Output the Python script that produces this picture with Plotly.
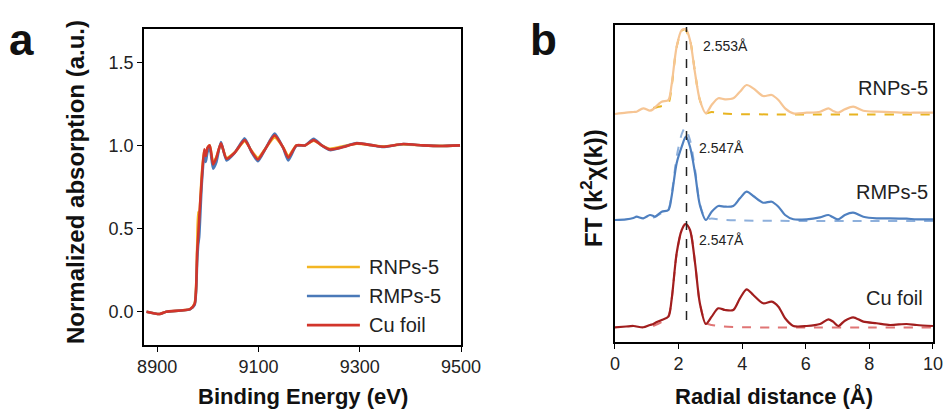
import plotly.graph_objects as go

# ---------------- Panel a: XANES ----------------
energy = [8879, 8905, 8918, 8965, 8974, 8979, 8981, 8983, 8988, 8993, 8996, 8999.5, 9004,
          9010.5, 9017, 9026, 9037, 9053, 9073, 9086, 9099, 9113, 9132, 9149, 9159, 9175,
          9192, 9209, 9225, 9241, 9267, 9294, 9326, 9346, 9386, 9425, 9458, 9498]
xanes_rnps = [0.0, -0.014, 0.0, 0.016, 0.05, 0.38, 0.60, 0.58, 0.82, 0.97, 0.94, 0.985, 1.0,
              0.895, 0.93, 1.008, 0.925, 0.957, 1.025, 0.97, 0.925, 0.978, 1.048, 0.988, 0.935, 1.0,
              1.0, 1.028, 1.0, 0.98, 0.995, 1.01, 1.0, 0.994, 1.006, 1.0, 0.997, 1.0]
xanes_rmps = [0.0, -0.014, 0.0, 0.014, 0.04, 0.30, 0.40, 0.45, 0.76, 0.94, 0.90, 0.96, 0.985,
              0.86, 0.90, 1.02, 0.91, 0.955, 1.042, 0.962, 0.905, 0.975, 1.072, 0.983, 0.91, 0.998,
              1.0, 1.04, 1.0, 0.972, 0.99, 1.014, 1.0, 0.99, 1.008, 1.0, 0.996, 1.0]
xanes_cu = [0.0, -0.014, 0.0, 0.016, 0.046, 0.356, 0.45, 0.556, 0.796, 0.976, 0.936, 0.986, 1.0,
            0.886, 0.926, 1.012, 0.92, 0.956, 1.032, 0.966, 0.916, 0.976, 1.06, 0.986, 0.926, 1.0,
            1.0, 1.032, 1.0, 0.976, 0.99, 1.012, 1.0, 0.992, 1.008, 1.0, 0.996, 1.0]
a_names = ["RNPs-5", "RMPs-5", "Cu foil"]
a_colors = ["#F3B623", "#4A79B8", "#D2352B"]
a_xticks = [8900, 9100, 9300, 9500]
a_yticks = [0.0, 0.5, 1.0, 1.5]

# ---------------- Panel b: FT-EXAFS (offset curves) ----------------
r_dist = [0.0, 0.35, 0.58, 0.68, 0.89, 1.10, 1.21, 1.26, 1.47, 1.68, 1.78, 1.94, 2.10, 2.23,
          2.36, 2.52, 2.67, 2.86, 3.04, 3.25, 3.46, 3.72, 3.93, 4.14, 4.35, 4.66, 4.93, 5.14,
          5.35, 5.61, 6.03, 6.45, 6.71, 6.86, 7.02, 7.23, 7.49, 7.81, 8.23, 8.65, 9.17, 9.49, 10.0]
ft_cu = [0.147, 0.155, 0.16, 0.155, 0.147, 0.17, 0.18, 0.19, 0.22, 0.253, 0.42, 0.887, 1.12, 1.18,
         1.12, 0.787, 0.387, 0.18, 0.253, 0.337, 0.32, 0.32, 0.437, 0.527, 0.47, 0.387, 0.403, 0.353,
         0.237, 0.16, 0.16, 0.18, 0.227, 0.203, 0.16, 0.213, 0.247, 0.203, 0.187, 0.17, 0.18, 0.17, 0.16]
ft_rmps = [1.22, 1.227, 1.24, 1.253, 1.237, 1.27, 1.26, 1.253, 1.303, 1.32, 1.453, 1.787, 1.953, 2.053,
           1.953, 1.687, 1.37, 1.22, 1.303, 1.36, 1.353, 1.36, 1.437, 1.503, 1.46, 1.393, 1.403, 1.353,
           1.27, 1.227, 1.227, 1.247, 1.27, 1.247, 1.227, 1.27, 1.293, 1.253, 1.237, 1.237, 1.233, 1.227, 1.227]
ft_rnps = [2.28, 2.293, 2.30, 2.303, 2.337, 2.313, 2.33, 2.347, 2.403, 2.42, 2.57, 2.953, 3.12, 3.127,
           3.02, 2.687, 2.42, 2.287, 2.37, 2.437, 2.427, 2.437, 2.503, 2.57, 2.537, 2.46, 2.47, 2.42,
           2.337, 2.287, 2.293, 2.303, 2.337, 2.31, 2.293, 2.327, 2.353, 2.313, 2.303, 2.30, 2.293, 2.293, 2.293]

r_fit = [1.20, 1.47, 1.68, 1.78, 1.94, 2.10, 2.20, 2.36, 2.52, 2.67, 2.86, 3.04, 3.40, 4.00, 5.00, 6.00, 8.00, 10.0]
fit_cu = [0.16, 0.20, 0.26, 0.42, 0.88, 1.12, 1.18, 1.12, 0.79, 0.39, 0.19, 0.17, 0.155, 0.148, 0.145, 0.145, 0.145, 0.145]
fit_rmps = [1.24, 1.29, 1.33, 1.47, 1.85, 2.08, 2.14, 2.02, 1.72, 1.38, 1.23, 1.235, 1.222, 1.215, 1.212, 1.21, 1.21, 1.21]
fit_rnps = [2.34, 2.36, 2.39, 2.55, 2.95, 3.11, 3.127, 3.02, 2.69, 2.42, 2.29, 2.30, 2.285, 2.278, 2.276, 2.276, 2.276, 2.276]

b_names = ["RNPs-5", "RMPs-5", "Cu foil"]
b_solid_colors = ["#F6C594", "#4F80C0", "#A11E1E"]
b_dash_colors = ["#E8B420", "#8EB0DC", "#E07575"]
b_xticks = [0, 2, 4, 6, 8, 10]
peak_r = 2.25
peak_labels = ["2.553Å", "2.547Å", "2.547Å"]
peak_label_pos = [(2.72, 2.96), (2.58, 1.94), (2.58, 1.02)]
name_label_pos = [(9.9, 2.54), (9.9, 1.50), (9.75, 0.44)]

fig = go.Figure()

for name, col, ys in zip(a_names, a_colors, [xanes_rnps, xanes_rmps, xanes_cu]):
    fig.add_trace(go.Scatter(x=energy, y=ys, mode="lines", name=name,
                             line=dict(color=col, width=2.6, shape="spline", smoothing=0.6),
                             xaxis="x", yaxis="y", showlegend=False))

for name, sc, dc, ys, fs in zip(b_names, b_solid_colors, b_dash_colors,
                                [ft_rnps, ft_rmps, ft_cu], [fit_rnps, fit_rmps, fit_cu]):
    fig.add_trace(go.Scatter(x=r_fit, y=fs, mode="lines", name=name + " fit",
                             line=dict(color=dc, width=2, dash="dash", shape="spline", smoothing=0.8),
                             xaxis="x2", yaxis="y2", showlegend=False))
    fig.add_trace(go.Scatter(x=r_dist, y=ys, mode="lines", name=name,
                             line=dict(color=sc, width=2.2, shape="spline", smoothing=0.8),
                             xaxis="x2", yaxis="y2", showlegend=False))

# vertical dashed line at first-shell peak
fig.add_trace(go.Scatter(x=[peak_r, peak_r], y=[0.22, 3.15], mode="lines",
                         line=dict(color="#222222", width=1.5, dash="dash"),
                         xaxis="x2", yaxis="y2", showlegend=False))

tickfont = dict(family="Liberation Sans, Arial", size=18, color="#222")
axis_common = dict(showline=True, linecolor="black", linewidth=1.5, mirror=True,
                   ticks="outside", ticklen=5, tickwidth=1.3, tickcolor="black", automargin=False,
                   showgrid=False, zeroline=False, tickfont=tickfont)

fig.update_layout(
    width=949, height=417, autosize=False,
    margin=dict(l=0, r=0, t=0, b=0, autoexpand=False),
    paper_bgcolor="white", plot_bgcolor="white",
    xaxis=dict(domain=[0.1517, 0.4858], range=[8874, 9500], tickvals=a_xticks, anchor="y", **axis_common),
    yaxis=dict(domain=[0.1727, 0.9305], range=[-0.2, 1.7], tickvals=a_yticks, tickformat=".1f",
               anchor="x", **axis_common),
    xaxis2=dict(domain=[0.648, 0.9831], range=[0, 10], tickvals=b_xticks, anchor="y2", **axis_common),
    yaxis2=dict(domain=[0.1799, 0.94], range=[0, 3.17], anchor="x2", showticklabels=False,
                showline=True, linecolor="black", linewidth=1.5, mirror=True, ticks="", automargin=False,
                showgrid=False, zeroline=False),
)

annotations = []
# manual legend for panel a
leg_y = [0.247, 0.155, 0.063]
for name, col, yy in zip(a_names, a_colors, leg_y):
    fig.add_shape(type="line", xref="x domain", yref="y domain", x0=0.514, x1=0.681, y0=yy, y1=yy,
                  line=dict(color=col, width=2.6))
    annotations.append(dict(xref="x domain", yref="y domain", x=0.705, y=yy, text=name, showarrow=False,
                            xanchor="left", yanchor="middle",
                            font=dict(family="Liberation Sans, Arial", size=20, color="#222")))

for txt, (px, py) in zip(peak_labels, peak_label_pos):
    annotations.append(dict(xref="x2", yref="y2", x=px, y=py, text=txt, showarrow=False,
                            xanchor="left", yanchor="middle",
                            font=dict(family="Liberation Sans, Arial", size=14, color="#222")))
for txt, (px, py) in zip(b_names, name_label_pos):
    annotations.append(dict(xref="x2", yref="y2", x=px, y=py, text=txt, showarrow=False,
                            xanchor="right", yanchor="middle",
                            font=dict(family="Liberation Sans, Arial", size=20, color="#222")))

title_font = dict(family="Liberation Sans, Arial", size=24, color="#111")
annotations += [
    dict(xref="paper", yref="paper", x=21 / 949, y=1 - 40 / 417, text="<b>a</b>", showarrow=False,
         xanchor="center", yanchor="middle", font=dict(family="Liberation Sans, Arial", size=44, color="#111")),
    dict(xref="paper", yref="paper", x=543 / 949, y=1 - 40 / 417, text="<b>b</b>", showarrow=False,
         xanchor="center", yanchor="middle", font=dict(family="Liberation Sans, Arial", size=44, color="#111")),
    dict(xref="paper", yref="paper", x=76 / 949, y=1 - 182 / 417, text="<b>Normalized absorption (a.u.)</b>",
         showarrow=False, textangle=-90, xanchor="center", yanchor="middle", font=title_font),
    dict(xref="paper", yref="paper", x=592 / 949, y=1 - 188 / 417, text="<b>FT (k<sup>2</sup>χ(k))</b>",
         showarrow=False, textangle=-90, xanchor="center", yanchor="middle", font=title_font),
    dict(xref="paper", yref="paper", x=303 / 949, y=1 - 396 / 417, text="<b>Binding Energy (eV)</b>",
         showarrow=False, xanchor="center", yanchor="middle",
         font=dict(family="Liberation Sans, Arial", size=22, color="#111")),
    dict(xref="paper", yref="paper", x=774 / 949, y=1 - 396 / 417, text="<b>Radial distance (Å)</b>",
         showarrow=False, xanchor="center", yanchor="middle",
         font=dict(family="Liberation Sans, Arial", size=22, color="#111")),
]
fig.update_layout(annotations=annotations)

fig.write_html(
    "out.html",
    config={"displayModeBar": False, "responsive": False},
    post_script=("document.body.style.margin='0';document.body.style.overflow='hidden';"
                 "Plotly.relayout('{plot_id}', {width: 949, height: 417});"),
)
